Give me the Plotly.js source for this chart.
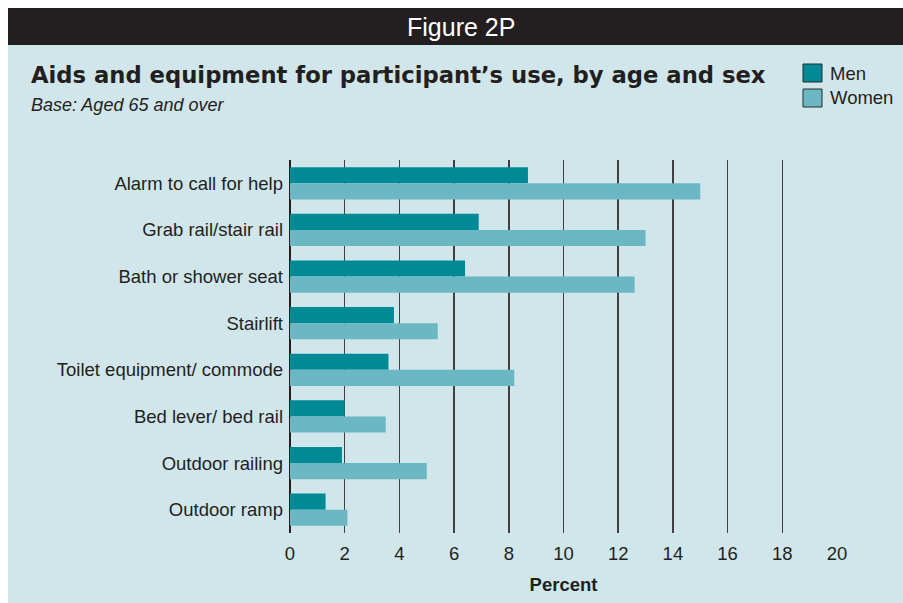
<!DOCTYPE html>
<html>
<head>
<meta charset="utf-8">
<script src="https://cdn.plot.ly/plotly-3.0.1.min.js"></script>
<style>html,body{margin:0;padding:0;background:#fff;}#chart{width:903px;height:603px;}</style>
</head>
<body>
<div id="chart"></div>
<script>
const categories = ["Alarm to call for help","Grab rail/stair rail","Bath or shower seat","Stairlift","Toilet equipment/ commode","Bed lever/ bed rail","Outdoor railing","Outdoor ramp"];
const men   = [8.7, 6.9, 6.4, 3.8, 3.6, 2.0, 1.9, 1.3];
const women = [15.0, 13.0, 12.6, 5.4, 8.2, 3.5, 5.0, 2.1];
const seriesNames = ["Men","Women"];
const seriesColors = ["#008a96","#6bb8c4"];
const xTicks = [0,2,4,6,8,10,12,14,16,18,20];

const L = 290, R = 66, T = 160, B = 70, W = 903, H = 603;
const pw = W - L - R, ph = H - T - B;
const px = x => (x - L) / pw;
const py = y => (H - B - y) / ph;

const font = "Liberation Sans, Arial, Helvetica, sans-serif";
const ink = "#231f20";

const traces = [men, women].map((vals, i) => ({
  type: "bar", orientation: "h", name: seriesNames[i],
  y: categories, x: vals,
  marker: {color: seriesColors[i], line: {width: 0}},
  hoverinfo: "x+name", showlegend: false
}));

const shapes = [
  {type:"rect", xref:"paper", yref:"paper", x0:px(8), x1:px(903), y0:py(45), y1:py(603), fillcolor:"#d0e6eb", line:{width:0}, layer:"below"},
  {type:"rect", xref:"paper", yref:"paper", x0:px(8), x1:px(903), y0:py(8), y1:py(45), fillcolor:"#231f20", line:{width:0}, layer:"below"}
];
const annotations = [
  {text:"Figure 2P", xref:"paper", yref:"paper", x:px(461), y:py(27), showarrow:false, xanchor:"center", yanchor:"middle", font:{family:font, size:25, color:"#ffffff"}},
  {text:"<b>Aids and equipment for participant’s use, by age and sex</b>", xref:"paper", yref:"paper", x:px(29), y:py(75), showarrow:false, xanchor:"left", yanchor:"middle", font:{family:"DejaVu Sans, sans-serif", size:22.7, color:ink}},
  {text:"<i>Base: Aged 65 and over</i>", xref:"paper", yref:"paper", x:px(29), y:py(105), showarrow:false, xanchor:"left", yanchor:"middle", font:{family:font, size:18, color:ink}}
];
seriesNames.forEach((n, i) => {
  const top = 64 + i * 25;
  shapes.push({type:"rect", xref:"paper", yref:"paper", x0:px(803), x1:px(822), y0:py(top), y1:py(top + 18), fillcolor:seriesColors[i], line:{color:"#2b2b2b", width:1}});
  annotations.push({text:n, xref:"paper", yref:"paper", x:px(828), y:py(top + 9), showarrow:false, xanchor:"left", yanchor:"middle", font:{family:font, size:18.5, color:ink}});
});

const layout = {
  width: W, height: H,
  margin: {l: L, r: R, t: T, b: B, pad: 0},
  paper_bgcolor: "#ffffff", plot_bgcolor: "rgba(0,0,0,0)",
  barmode: "group", bargap: 0.31, bargroupgap: 0,
  xaxis: {
    range: [0, 20], tickvals: xTicks, ticktext: xTicks.map(String),
    showgrid: true, gridcolor: "#404040", gridwidth: 1.5,
    zeroline: true, zerolinecolor: "#231f20", zerolinewidth: 1.5,
    showline: false, ticks: "", ticklabelstandoff: 7,
    tickfont: {family: font, size: 18.5, color: ink},
    title: {text: "<b>Percent</b>", font: {family: font, size: 18.5, color: ink}, standoff: 15}
  },
  yaxis: {
    type: "category", autorange: "reversed",
    showgrid: false, zeroline: false, showline: false, ticks: "", ticklabelstandoff: 6,
    tickfont: {family: font, size: 18.5, color: ink}
  },
  shapes, annotations, showlegend: false
};
Plotly.newPlot("chart", traces, layout, {staticPlot: true, displayModeBar: false});
</script>
</body>
</html>
